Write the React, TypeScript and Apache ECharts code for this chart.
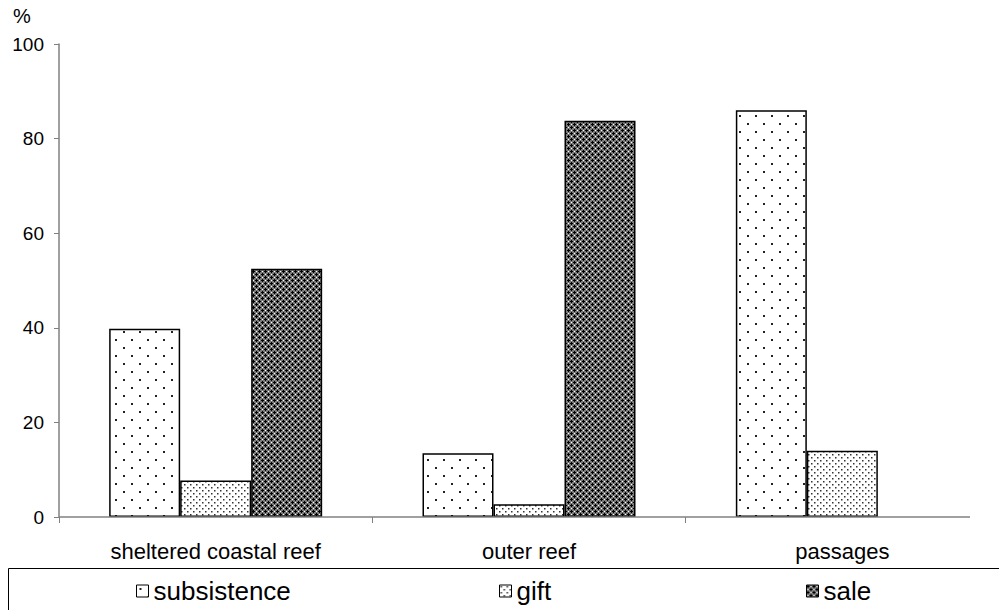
import React, { useEffect, useRef } from 'react';
import * as echarts from 'echarts';

const categories = ['sheltered coastal reef', 'outer reef', 'passages'];
const seriesNames = ['subsistence', 'gift', 'sale'];
const subsistence = [39.8, 13.5, 86];
const gift = [7.7, 2.7, 14];
const sale = [52.5, 83.8, 0];
const yMin = 0;
const yMax = 100;
const yInterval = 20;
const yUnit = '%';

function makeTile(w: number, h: number, draw: (ctx: CanvasRenderingContext2D) => void) {
  const c = document.createElement('canvas');
  c.width = w;
  c.height = h;
  const ctx = c.getContext('2d') as CanvasRenderingContext2D;
  draw(ctx);
  return { image: c, repeat: 'repeat', imageWidth: w, imageHeight: h } as any;
}

function subsistencePattern() {
  return makeTile(16, 16, (ctx) => {
    ctx.fillStyle = '#ffffff';
    ctx.fillRect(0, 0, 16, 16);
    ctx.fillStyle = '#222222';
    ctx.fillRect(3, 3, 2, 2);
    ctx.fillRect(11, 11, 2, 2);
  });
}

function giftPattern() {
  return makeTile(6, 6, (ctx) => {
    ctx.fillStyle = '#ffffff';
    ctx.fillRect(0, 0, 6, 6);
    ctx.fillStyle = '#333333';
    ctx.fillRect(1, 1, 1.5, 1.5);
    ctx.fillRect(4, 4, 1.5, 1.5);
  });
}

function salePattern() {
  return makeTile(6, 6, (ctx) => {
    ctx.fillStyle = '#7a7a7a';
    ctx.fillRect(0, 0, 6, 6);
    ctx.fillStyle = '#000000';
    const black = [
      [1, 0], [0, 1], [1, 1], [2, 1], [1, 2],
      [4, 3], [3, 4], [4, 4], [5, 4], [4, 5],
    ];
    black.forEach(([x, y]) => ctx.fillRect(x, y, 1, 1));
    ctx.fillStyle = '#ffffff';
    ctx.fillRect(4, 1, 1, 1);
    ctx.fillRect(1, 4, 1, 1);
  });
}

const FONT = '"Liberation Sans", Arial, sans-serif';

export default function App() {
  const ref = useRef<HTMLDivElement>(null);
  useEffect(() => {
    if (!ref.current) return;
    const chart = echarts.init(ref.current, null, { renderer: 'svg' });
    const patterns = [subsistencePattern(), giftPattern(), salePattern()];
    const values = [subsistence, gift, sale];
    const gridLeft = 59;
    const gridTop = 44;
    const gridHeight = 473;
    const legendLefts = [136, 499, 806];
    chart.setOption({
      animation: false,
      backgroundColor: '#ffffff',
      textStyle: { fontFamily: FONT },
      grid: { left: gridLeft, top: gridTop, width: 950, height: gridHeight, containLabel: false },
      legend: seriesNames.map((n, i) => ({
        data: [n],
        left: legendLefts[i],
        top: 578,
        padding: 0,
        icon: 'rect',
        itemWidth: 12,
        itemHeight: 12,
        itemGap: 0,
        itemStyle: { borderColor: '#000', borderWidth: 1 },
        textStyle: { fontSize: 26, color: '#000', fontFamily: FONT, padding: [0, 0, 0, 0] },
        selectedMode: false,
      })),
      xAxis: {
        type: 'category',
        data: categories,
        axisLine: { show: false },
        axisTick: { show: true, length: 6, interval: 0, lineStyle: { color: '#808080', width: 1 } },
        axisLabel: { fontSize: 22, color: '#000', margin: 23, interval: 0, fontFamily: FONT },
        splitLine: { show: false },
      },
      yAxis: {
        type: 'value',
        min: yMin,
        max: yMax,
        interval: yInterval,
        axisLine: { show: true, lineStyle: { color: '#808080', width: 1.5 } },
        axisTick: { show: true, length: 5, lineStyle: { color: '#808080', width: 1 } },
        axisLabel: { fontSize: 19, color: '#000', margin: 15, fontFamily: FONT },
        splitLine: { show: false },
      },
      series: seriesNames.map((n, i) => ({
        name: n,
        type: 'bar',
        data: values[i].map((v) => (v === 0 ? { value: v, itemStyle: { borderWidth: 0 } } : v)),
        barWidth: 71,
        barGap: '0%',
        itemStyle: { color: patterns[i], borderColor: '#000', borderWidth: 1.5 },
      })),
      graphic: [
        {
          type: 'line',
          shape: { x1: gridLeft, y1: gridTop + gridHeight, x2: 970, y2: gridTop + gridHeight },
          style: { stroke: '#808080', lineWidth: 1.5 },
          z: 5,
        },
        {
          type: 'rect',
          shape: { x: 8.5, y: 568.5, width: 1000, height: 60 },
          style: { stroke: '#000', lineWidth: 1, fill: 'none' },
          z: 1,
        },
        {
          type: 'text',
          left: 13,
          top: 6,
          style: { text: yUnit, fontSize: 20, fill: '#000', fontFamily: FONT },
        },
      ],
    });
    return () => chart.dispose();
  }, []);
  return <div ref={ref} style={{ position: 'absolute', left: 0, top: 0, width: 999, height: 610 }} />;
}
